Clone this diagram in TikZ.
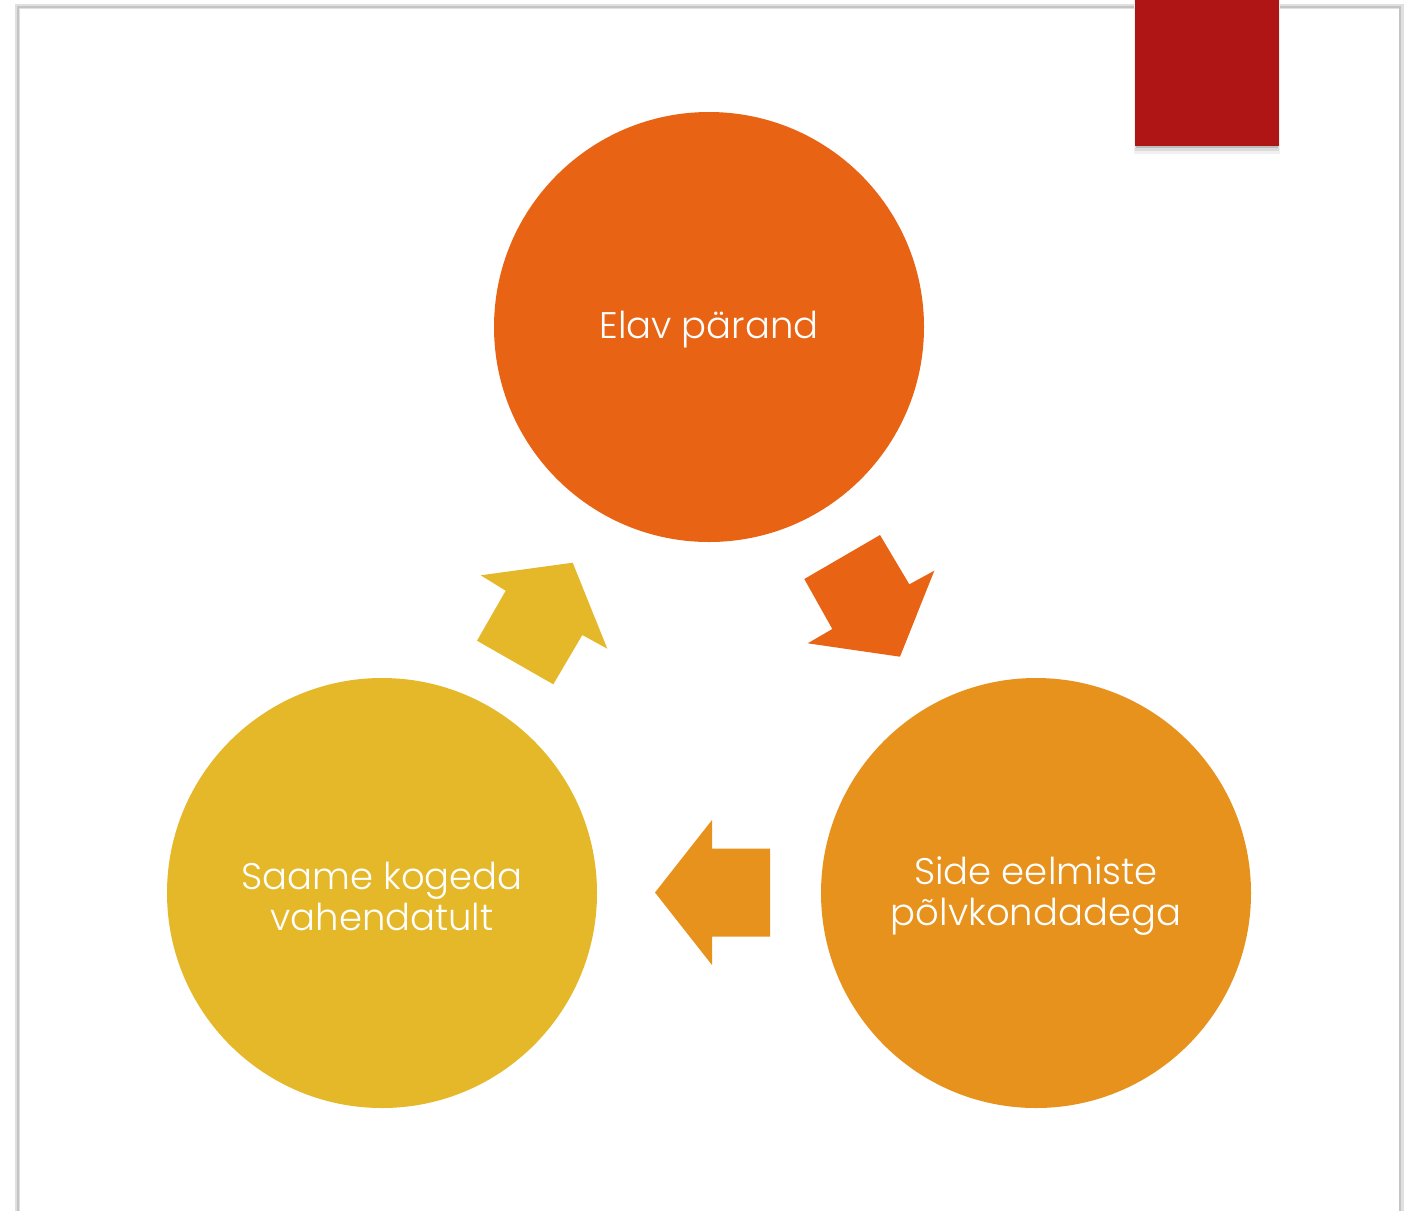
\documentclass[tikz,border=0pt]{standalone}
\usepackage{fontspec}
\setmainfont{Poppins}[UprightFont=*-Light]
\definecolor{cTop}{HTML}{E86414}
\definecolor{cRight}{HTML}{E8921E}
\definecolor{cLeft}{HTML}{E5B82A}
\definecolor{cRed}{HTML}{AF1515}
\definecolor{cFrame}{HTML}{C4C4C4}
\tikzset{
  bubble/.style={circle, inner sep=0pt, minimum size=430pt},
  bubbletext/.style={text=white, align=center, inner sep=0pt,
    font=\fontsize{37}{41}\selectfont},
  framel/.style={draw=cFrame, line width=2.5pt},
}
\begin{document}
\begin{tikzpicture}[x=1pt,y=-1pt]
\useasboundingbox (0,0) rectangle (1412,1210);
\fill[white] (0,0) rectangle (1412,1210);
% frame with soft shadow
\draw[draw=black!12, line width=5pt] (17,1212) -- (17,6) -- (1401,6) -- (1401,1212);
\draw[framel] (18,1212) -- (18,7) -- (1400,7) -- (1400,1212);
% red tab with soft shadow below
\fill[black!6] (1134,0) rectangle (1280,154);
\fill[black!14] (1135,0) rectangle (1279,151);
\fill[black!26] (1136,0) rectangle (1278,148);
\fill[cRed] (1135,0) rectangle (1279,146);
% circles
\node[bubble, fill=cTop] (top) at (709,327) {};
\node[bubble, fill=cRight] (right) at (1036,893) {};
\node[bubble, fill=cLeft] (left) at (382,893) {};
\node[bubbletext] (topT) at ([yshift=-3pt]top.center) {Elav pärand};
\node[bubbletext] (rightT) at ([yshift=-3pt]right.center) {Side eelmiste\\põlvkondadega};
\node[bubbletext] (leftT) at ([yshift=-3pt]left.center) {Saame kogeda\\vahendatult};
% arrows
\fill[cTop] (880,535) -- (909.3,584.3) -- (934.3,570.7) -- (900,656.7) -- (807.7,643.3) -- (832.3,629) -- (804.3,579) -- cycle;
\fill[cRight] (655,892.5) -- (712,820) -- (712,848.5) -- (770,848.5) -- (770,936.7) -- (712,936.7) -- (712,965) -- cycle;
\fill[cLeft] (480.7,575.3) -- (572.7,562.7) -- (607.3,648.7) -- (582.3,635) -- (553.3,684.3) -- (477,640.7) -- (505.7,590.7) -- cycle;
\end{tikzpicture}
\end{document}
